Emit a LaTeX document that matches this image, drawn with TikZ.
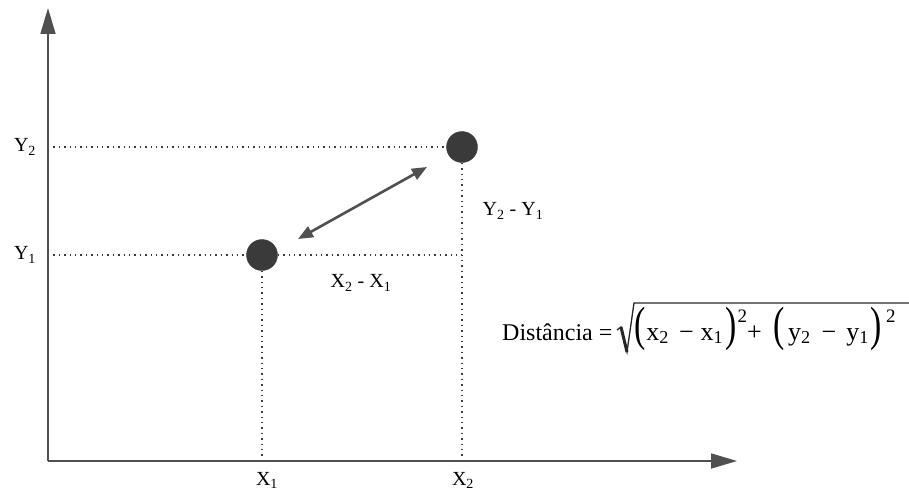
\documentclass[tikz,border=0pt]{standalone}
\usepackage{fontspec}
\setmainfont{Liberation Serif}
\usetikzlibrary{arrows.meta,calc}
\definecolor{ink}{HTML}{505050}
\definecolor{dotc}{HTML}{3A3A3A}
\newcommand\myLP{\scalebox{1.3}[1.85]{(}}
\newcommand\myRP{\scalebox{1.3}[1.85]{)}}
\newcommand\mySq{\raisebox{18pt}{\fontsize{19}{19}\selectfont 2}}
\begin{document}
\begin{tikzpicture}[x=1pt,y=-1pt,
  axis/.style={draw=ink,line width=1.6pt,-{Triangle[length=26pt,width=15pt]}},
  guide/.style={draw=dotc,line width=1.5pt,dash pattern=on 1.4pt off 4pt},
  pt/.style={circle,fill=dotc,draw=dotc,minimum size=31pt,inner sep=0pt},
  lbl/.style={font=\fontsize{20}{24}\selectfont,inner sep=1pt},
  flbl/.style={font=\fontsize{24}{28}\selectfont,inner sep=0pt},
  rad/.style={draw=black!85,line width=1.3pt,line join=miter},
  dbl/.style={draw=ink,line width=2.6pt,{Triangle[length=15pt,width=12pt]}-{Triangle[length=15pt,width=12pt]}}]
\useasboundingbox (0,0) rectangle (909,495);
\coordinate (O) at (48,461);
\coordinate (ytop) at (48,8);
\coordinate (xend) at (737,461);
\node[pt] (p1) at (262,255) {};
\node[pt] (p2) at (462,147) {};
\coordinate (y2) at (48,147);
\coordinate (y1) at (48,255);
\coordinate (x1) at (262,461);
\coordinate (x2) at (462,461);
\coordinate (c) at (462,255);
\draw[guide] (y2) -- (p2.west);
\draw[guide] (y1) -- (p1.west);
\draw[guide] (p1.east) -- (c);
\draw[guide] (p1.south) -- (x1);
\draw[guide] (p2.south) -- (x2);
\draw[axis] (O) -- (ytop);
\draw[axis] (O) -- (xend);
\coordinate (a1) at (298,239);
\coordinate (a2) at (427,167);
\draw[dbl] (a1) -- (a2);
\node[lbl] (ly2) at (25,147) {Y\textsubscript{2}};
\node[lbl] (ly1) at (25,255) {Y\textsubscript{1}};
\node[lbl] (lx1) at (267,480) {X\textsubscript{1}};
\node[lbl] (lx2) at (463,480) {X\textsubscript{2}};
\node[lbl] (dy) at (513,211) {Y\textsubscript{2} - Y\textsubscript{1}};
\node[lbl] (dx) at (361,283) {X\textsubscript{2} - X\textsubscript{1}};
\node[flbl,anchor=base west] (f) at (502,340) {Distância =};
\node[flbl,font=\fontsize{26}{30}\selectfont,anchor=base west] (g) at (634,340) {\myLP\hspace{1pt}x\textsubscript{2}\hspace{10pt}−\hspace{7pt}x\textsubscript{1}\hspace{2pt}\myRP\hspace{1pt}\mySq\hspace{0pt}+\hspace{12pt}\myLP\hspace{3pt}y\textsubscript{2}\hspace{11pt}−\hspace{10pt}y\textsubscript{1}\hspace{2pt}\myRP\hspace{4pt}\mySq};
\coordinate (r0) at ($(g.base west)+(-17,-10)$);
\coordinate (r1) at ($(g.base west)+(-13,-13)$);
\coordinate (r2) at ($(g.base west)+(-7,12)$);
\coordinate (r3) at ($(g.base west)+(0,-37)$);
\coordinate (r4) at (909,303);
\draw[rad] (r0) -- (r1) -- (r2) -- (r3) -- (r4);
\draw[draw=black!85,line width=3pt] (r1) -- (r2);
\end{tikzpicture}
\end{document}
